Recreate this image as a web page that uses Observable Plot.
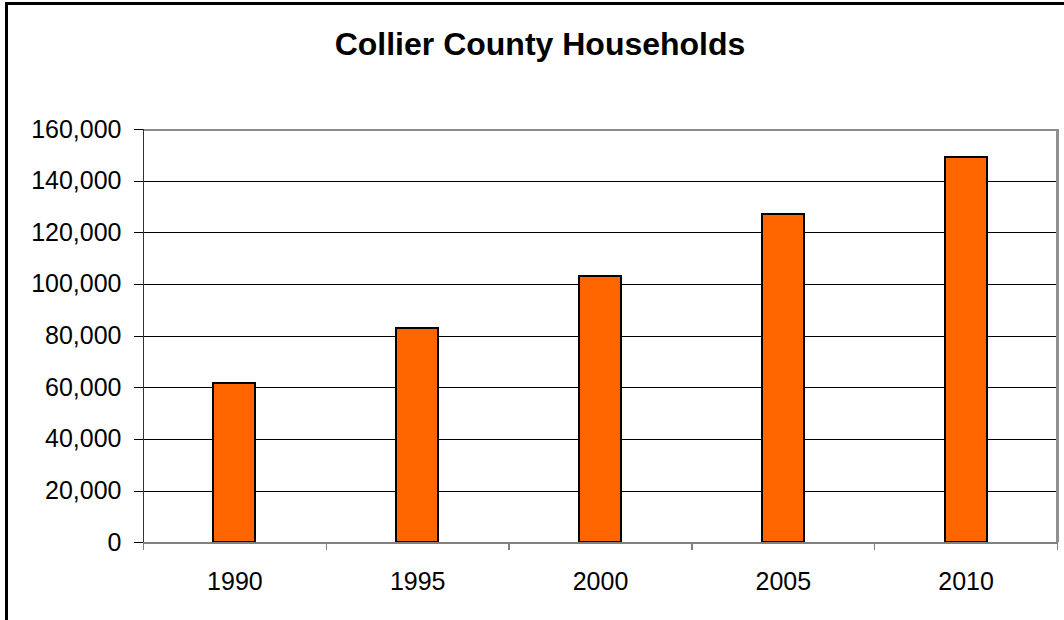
<!DOCTYPE html>
<html>
<head>
<meta charset="utf-8">
<script src="https://cdn.jsdelivr.net/npm/d3@7"></script>
<script src="https://cdn.jsdelivr.net/npm/@observablehq/plot@0.6"></script>
<style>
  body { margin: 0; background: #fff; }
  #page { position: relative; width: 1064px; height: 620px; overflow: hidden; background: #fff;
          font-family: "Liberation Sans", Arial, sans-serif; }
  #frame { position: absolute; left: 5px; top: 2px; width: 2000px; height: 2000px;
           border-left: 3px solid #000; border-top: 3px solid #000; }
  #title { position: relative; height: 100px; }
  #title div { position: absolute; left: 0; width: 1080px; top: 28px; text-align: center;
               font: bold 32px/1 "Liberation Sans", Arial, sans-serif; color: #000; }
  #chart svg { display: block; }
</style>
</head>
<body>
<div id="page">
  <div id="frame"></div>
  <div id="title"><div>Collier County Households</div></div>
  <div id="chart"></div>
</div>
<script>
// Households by year
const years = [1990, 1995, 2000, 2005, 2010];
const households = [61700, 82800, 103000, 127000, 149300];
// Value axis tick values
const yTicks = [0, 20000, 40000, 60000, 80000, 100000, 120000, 140000, 160000];

const data = years.map((year, i) => ({year, households: households[i]}));

// Each year occupies a 5-year slot; the bar fills about 23% of it
const step = 5;
const halfBar = step * 0.23 / 2;
const xDomain = [years[0] - step / 2, years[years.length - 1] + step / 2];
const boundaries = years.map(y => y - step / 2).concat(xDomain[1]);

const crisp = {shapeRendering: "crispEdges"};

const chart = Plot.plot({
  width: 1064,
  height: 520,
  marginTop: 29,
  marginBottom: 77.7,
  marginLeft: 143,
  marginRight: 7,
  style: {
    fontFamily: '"Liberation Sans", Arial, sans-serif',
    fontSize: "25px",
    background: "transparent",
    color: "#000",
    overflow: "visible"
  },
  x: {domain: xDomain},
  y: {domain: [0, 160000]},
  marks: [
    // horizontal gridlines
    Plot.ruleY(yTicks.slice(1, -1), {stroke: "#000", strokeWidth: 1, ...crisp}),
    // plot area top edge
    Plot.ruleY([yTicks[yTicks.length - 1]], {stroke: "#8c8c8c", strokeWidth: 2, ...crisp}),
    // bars
    Plot.rectY(data, {
      x1: d => d.year - halfBar,
      x2: d => d.year + halfBar,
      y: "households",
      fill: "#FF6600",
      stroke: "#000",
      strokeWidth: 2,
      ...crisp
    }),
    // category boundary ticks below the baseline
    Plot.axisX({ticks: boundaries, tickSize: 8, tickFormat: () => "", stroke: "#808080", strokeWidth: 1.5, label: null, ...crisp}),
    // category labels
    Plot.axisX({ticks: years, tickSize: 0, tickPadding: 29, tickFormat: d => String(d), fontSize: 25, label: null}),
    // baseline, right edge, left axis line
    Plot.ruleY([0], {stroke: "#808080", strokeWidth: 2, ...crisp}),
    Plot.ruleX([xDomain[1]], {stroke: "#909090", strokeWidth: 2.5, ...crisp}),
    Plot.ruleX([xDomain[0]], {stroke: "#333", strokeWidth: 1.5, ...crisp}),
    // value axis
    Plot.axisY({ticks: yTicks, tickSize: 9, tickPadding: 13, tickFormat: d3.format(","), fontSize: 25, stroke: "#000", label: null, ...crisp})
  ]
});

document.getElementById("chart").appendChild(chart);
</script>
</body>
</html>
